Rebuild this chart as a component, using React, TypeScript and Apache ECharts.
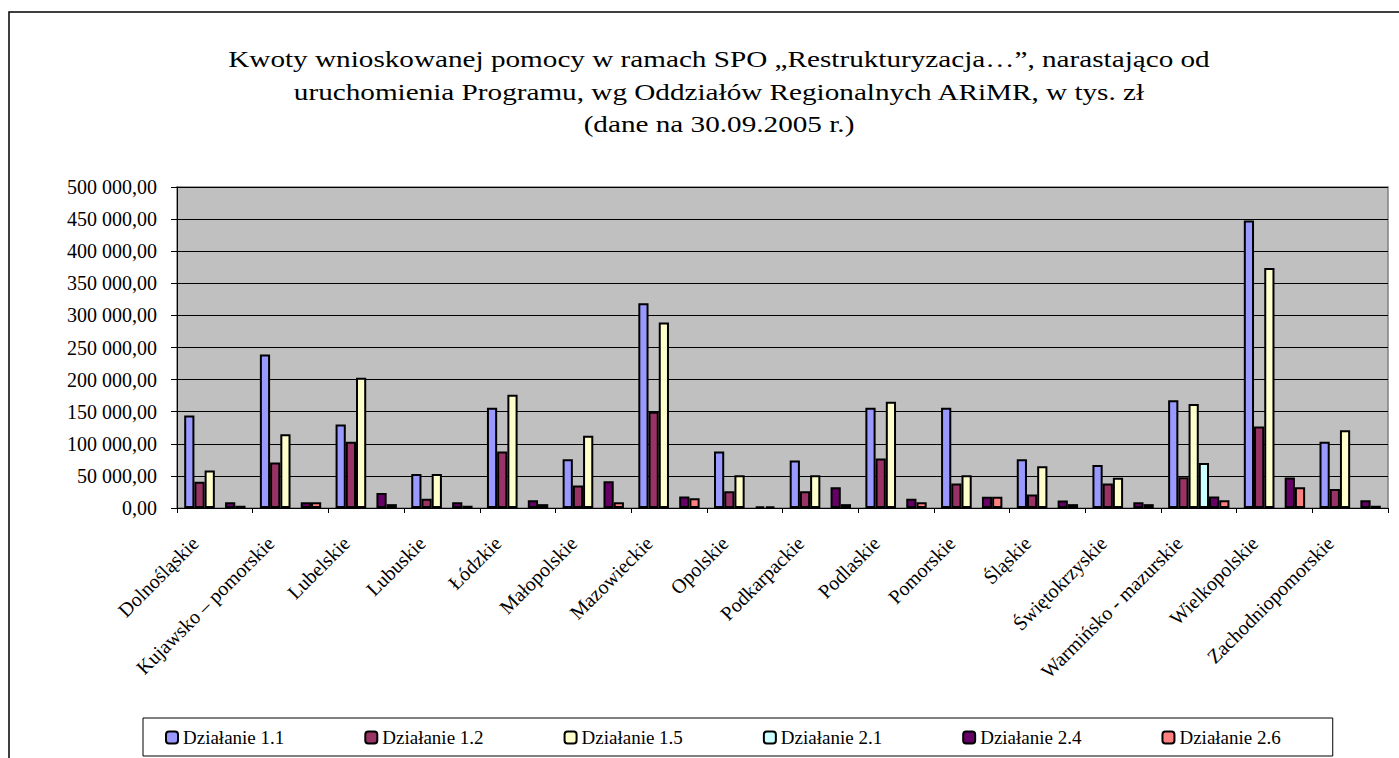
import React, { useEffect, useRef } from "react";
import * as echarts from "echarts";

const categories = [
  "Dolnośląskie",
  "Kujawsko – pomorskie",
  "Lubelskie",
  "Lubuskie",
  "Łódzkie",
  "Małopolskie",
  "Mazowieckie",
  "Opolskie",
  "Podkarpackie",
  "Podlaskie",
  "Pomorskie",
  "Śląskie",
  "Świętokrzyskie",
  "Warmińsko - mazurskie",
  "Wielkopolskie",
  "Zachodniopomorskie",
];

const seriesNames = [
  "Działanie 1.1",
  "Działanie 1.2",
  "Działanie 1.5",
  "Działanie 2.1",
  "Działanie 2.4",
  "Działanie 2.6",
];

const d11 = [144000, 239000, 130000, 53000, 156000, 76000, 319000, 88000, 74000, 156000, 156000, 76000, 67000, 168000, 448000, 103000];
const d12 = [41000, 71000, 103000, 14500, 88000, 35000, 150000, 26000, 26000, 77000, 38000, 21000, 38000, 48000, 127000, 29500];
const d15 = [58500, 115000, 203000, 53000, 176500, 112500, 289000, 51000, 51000, 165500, 51000, 65000, 47000, 162000, 374000, 121000];
const d21 = [null, null, null, null, null, null, null, null, null, null, null, null, null, 70000, null, null];
const d24 = [9000, 9000, 23500, 9000, 12000, 41500, 18000, 2500, 32500, 14500, 17500, 11500, 9000, 18000, 47500, 12000];
const d26 = [3500, 9000, 6000, 3500, 6000, 9000, 15000, 2500, 6000, 9000, 17500, 6000, 6000, 12000, 32500, 3500];

const seriesData = [d11, d12, d15, d21, d24, d26];
const colors = ["#9999FF", "#993366", "#FFFFCC", "#CCFFFF", "#660066", "#FF8080"];

const titleLines = [
  "Kwoty wnioskowanej pomocy w ramach SPO „Restrukturyzacja…”, narastająco od",
  "uruchomienia Programu, wg Oddziałów Regionalnych ARiMR, w tys. zł",
  "(dane na 30.09.2005 r.)",
];

const yMax = 500000;
const yStep = 50000;

const FONT = "Liberation Serif";

function fmt(v: number): string {
  return Math.round(v).toString().replace(/\B(?=(\d{3})+(?!\d))/g, " ") + ",00";
}

export default function App() {
  const ref = useRef<HTMLDivElement>(null);
  useEffect(() => {
    if (!ref.current) return;
    const chart = echarts.init(ref.current, null, { renderer: "svg" });
    const titleGraphics = titleLines.map((line, i) => ({
      type: "text",
      x: 719,
      y: 60 + 32.5 * i,
      scaleX: 1.27,
      silent: true,
      style: {
        text: line,
        x: 0,
        y: 0,
        align: "center",
        verticalAlign: "middle",
        fontFamily: FONT,
        fontSize: 23,
        fill: "#000",
      },
    }));
    chart.setOption({
      animation: false,
      backgroundColor: "#ffffff",
      textStyle: { fontFamily: FONT },
      graphic: [
        {
          type: "rect",
          shape: { x: 9, y: 12, width: 1400, height: 770 },
          style: { fill: "none", stroke: "#000", lineWidth: 1.5 },
          silent: true,
          z: -1,
        },
        ...titleGraphics,
      ],
      legend: {
        data: seriesNames,
        left: 143,
        top: 718,
        orient: "horizontal",
        padding: [10, 52, 9, 22],
        itemGap: 80,
        itemWidth: 12,
        itemHeight: 12,
        backgroundColor: "#fff",
        borderColor: "#000",
        borderWidth: 1,
        textStyle: { fontFamily: FONT, fontSize: 19, color: "#000" },
      },
      grid: {
        left: 177,
        right: 11,
        top: 187,
        bottom: 250,
        show: true,
        backgroundColor: "#C0C0C0",
        borderColor: "#808080",
        borderWidth: 1.5,
      },
      xAxis: {
        type: "category",
        data: categories,
        axisLine: { show: true, lineStyle: { color: "#000", width: 1 } },
        axisTick: { show: true, alignWithLabel: false, length: 5, lineStyle: { color: "#000" } },
        axisLabel: {
          interval: 0,
          rotate: 45,
          margin: 12,
          padding: [0, 28, 0, 0],
          fontFamily: FONT,
          fontSize: 20,
          color: "#000",
        },
      },
      yAxis: {
        type: "value",
        min: 0,
        max: yMax,
        interval: yStep,
        axisLine: { show: true, lineStyle: { color: "#000", width: 1 } },
        axisTick: { show: true, length: 6, lineStyle: { color: "#000" } },
        splitLine: { show: true, lineStyle: { color: "#000", width: 1 } },
        axisLabel: {
          margin: 20,
          fontFamily: FONT,
          fontSize: 20,
          color: "#000",
          formatter: (v: number) => fmt(v),
        },
      },
      series: seriesNames.map((name, i) => ({
        name,
        type: "bar",
        data: seriesData[i],
        barGap: "0%",
        barCategoryGap: "19%",
        itemStyle: { color: colors[i], borderColor: "#000", borderWidth: 2 },
      })),
    });
    return () => chart.dispose();
  }, []);
  return (
    <div
      ref={ref}
      style={{ position: "fixed", left: 0, top: 0, width: 1399, height: 758 }}
    />
  );
}
